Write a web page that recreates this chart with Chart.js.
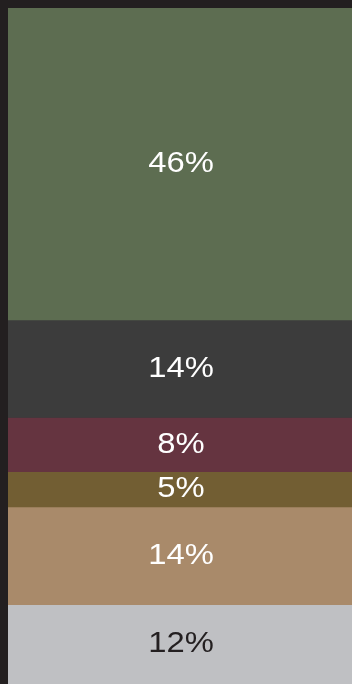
<!DOCTYPE html>
<html>
<head>
<meta charset="utf-8">
<title>Share</title>
<script src="https://cdn.jsdelivr.net/npm/chart.js@4/dist/chart.umd.min.js"></script>
<style>
  html, body { margin: 0; padding: 0; background: #231f20; }
  #wrap { width: 352px; height: 684px; position: relative; }
</style>
</head>
<body>
<div id="wrap"><canvas id="shareChart"></canvas></div>
<script>
// segments from top to bottom
var segments = ["A", "B", "C", "D", "E", "F"];
var shares = [46.0, 14.4, 8.0, 5.2, 14.4, 11.7];
var colors = ["#5d6d51", "#3c3c3c", "#653440", "#725e33", "#a98a6a", "#bfc0c3"];
var labelColors = ["#ffffff", "#ffffff", "#ffffff", "#ffffff", "#ffffff", "#231f20"];

var total = shares.reduce(function (a, b) { return a + b; }, 0);

var datasets = segments.map(function (name, i) {
  return {
    label: name,
    data: [shares[i]],
    backgroundColor: colors[i],
    borderWidth: 0,
    barPercentage: 1,
    categoryPercentage: 1
  };
});

// percent text in the middle of every segment, slightly widened
var segmentLabels = {
  id: 'segmentLabels',
  afterDatasetsDraw: function (chart) {
    var ctx = chart.ctx;
    chart.data.datasets.forEach(function (ds, i) {
      var p = chart.getDatasetMeta(i).data[0].getCenterPoint();
      ctx.save();
      ctx.translate(p.x + 1, p.y);
      ctx.scale(1.13, 1);
      ctx.font = '29px "Liberation Sans", Arial, sans-serif';
      ctx.textAlign = 'center';
      ctx.textBaseline = 'middle';
      ctx.fillStyle = labelColors[i];
      ctx.fillText(Math.round(ds.data[0]) + '%', 0, 0);
      ctx.restore();
    });
  }
};

new Chart(document.getElementById('shareChart'), {
  type: 'bar',
  data: { labels: ['share'], datasets: datasets },
  options: {
    responsive: true,
    maintainAspectRatio: false,
    animation: false,
    layout: { padding: { left: 8, top: 8, right: 0, bottom: 0 } },
    plugins: { legend: { display: false }, tooltip: { enabled: false } },
    scales: {
      x: { stacked: true, display: false },
      y: { stacked: true, display: false, reverse: true, min: 0, max: total }
    }
  },
  plugins: [segmentLabels]
});
</script>
</body>
</html>
